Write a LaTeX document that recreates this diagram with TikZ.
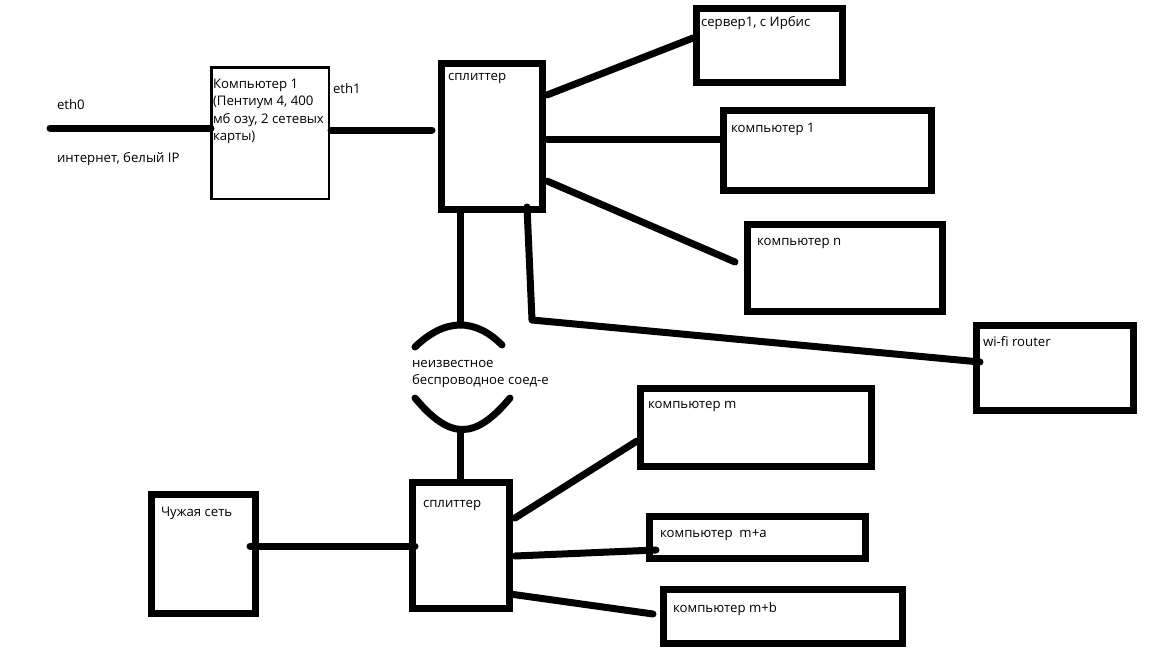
\documentclass[tikz,border=0pt]{standalone}
\usepackage{fontspec}
\setmainfont{Open Sans}
\begin{document}
\begin{tikzpicture}[x=1pt,y=-1pt,
  box/.style={draw=black,line width=7pt,inner sep=0pt,outer sep=0pt,fill=white},
  thinbox/.style={draw=black,line width=2.5pt,inner sep=0pt,outer sep=0pt,fill=white},
  wire/.style={line width=7pt,line cap=round,line join=round},
  lbl/.style={anchor=base west,inner sep=0pt,outer sep=0pt,font=\fontsize{13.2}{17.5}\selectfont,align=left}]
\useasboundingbox[fill=white] (0,0) rectangle (1152,648);
% boxes
\node[thinbox,minimum width=117.5pt,minimum height=131.5pt] (comp) at (270,133) {};
\node[box,minimum width=101pt,minimum height=146pt] (sp1) at (491.5,136) {};
\node[box,minimum width=146pt,minimum height=74pt] (srv) at (769.5,45.5) {};
\node[box,minimum width=208pt,minimum height=80pt] (pc1) at (827.5,150.5) {};
\node[box,minimum width=195pt,minimum height=87pt] (pcn) at (845,268) {};
\node[box,minimum width=157pt,minimum height=85pt] (wifi) at (1055,368) {};
\node[box,minimum width=97pt,minimum height=126pt] (sp2) at (461,545.5) {};
\node[box,minimum width=104pt,minimum height=119pt] (fgn) at (203.5,554) {};
\node[box,minimum width=231pt,minimum height=78pt] (pcm) at (756,427.5) {};
\node[box,minimum width=216pt,minimum height=42pt] (pcma) at (757.5,537.5) {};
\node[box,minimum width=239pt,minimum height=54pt] (pcmb) at (783,616.5) {};
% connector end points
\coordinate (inet) at (50,128);
\coordinate (compW) at (211,128);
\coordinate (compE) at (331,130);
\coordinate (sp1W) at (432,130);
\coordinate (sp1a) at (547,95);
\coordinate (srvW) at (693,38);
\coordinate (sp1b) at (547,139);
\coordinate (pc1W) at (723,139);
\coordinate (sp1c) at (547,181);
\coordinate (pcnW) at (735,262);
\coordinate (sp1d) at (460,212);
\coordinate (upArc) at (460,322);
\coordinate (sp1e) at (527,207);
\coordinate (bend) at (532,320);
\coordinate (wifiW) at (980,362);
\coordinate (loArc) at (460,430);
\coordinate (sp2N) at (460,482);
\coordinate (fgnE) at (250,546);
\coordinate (sp2W) at (415,546);
\coordinate (sp2a) at (515,518);
\coordinate (pcmW) at (637,441);
\coordinate (sp2b) at (515,556);
\coordinate (pcmaW) at (656,550);
\coordinate (sp2c) at (510,594);
\coordinate (pcmbW) at (653,614);
\coordinate (ua1) at (415,347);
\coordinate (ua2) at (502,345);
\coordinate (la1) at (415,398);
\coordinate (la2) at (510,398);
% connectors
\draw[wire] (inet) -- (compW);
\draw[wire] (compE) -- (sp1W);
\draw[wire] (sp1a) -- (srvW);
\draw[wire] (sp1b) -- (pc1W);
\draw[wire] (sp1c) -- (pcnW);
\draw[wire] (sp1d) -- (upArc);
\draw[wire] (sp1e) -- (bend) -- (wifiW);
\draw[wire] (ua1) .. controls (445,318) and (475,318) .. (ua2);
\draw[wire] (la1) .. controls (450,440) and (475,440) .. (la2);
\draw[wire] (loArc) -- (sp2N);
\draw[wire] (fgnE) -- (sp2W);
\draw[wire] (sp2a) -- (pcmW);
\draw[wire] (sp2b) -- (pcmaW);
\draw[wire] (sp2c) -- (pcmbW);
% labels (base of multi-line nodes = last line)
\node[lbl] (tcomp) at (213,140.5) {Компьютер 1\\(Пентиум 4, 400\\мб озу, 2 сетевых\\карты)};
\node[lbl] (teth0) at (57,109) {eth0};
\node[lbl] (tinet) at (57,162) {интернет, белый IP};
\node[lbl] (teth1) at (333,93) {eth1};
\node[lbl] (tsp1) at (448,80) {сплиттер};
\node[lbl] (tsrv) at (701,26) {сервер1, с Ирбис};
\node[lbl] (tpc1) at (731,132) {компьютер 1};
\node[lbl] (tpcn) at (757,245) {компьютер n};
\node[lbl] (twifi) at (983,346) {wi-fi router};
\node[lbl] (tunk) at (412,384.5) {неизвестное\\беспроводное соед-е};
\node[lbl] (tsp2) at (423,507) {сплиттер};
\node[lbl] (tfgn) at (161,516) {Чужая сеть};
\node[lbl] (tpcm) at (648,408) {компьютер m};
\node[lbl] (tpcma) at (660,537) {компьютер\ \ m+a};
\node[lbl] (tpcmb) at (673,612) {компьютер m+b};
\end{tikzpicture}
\end{document}
